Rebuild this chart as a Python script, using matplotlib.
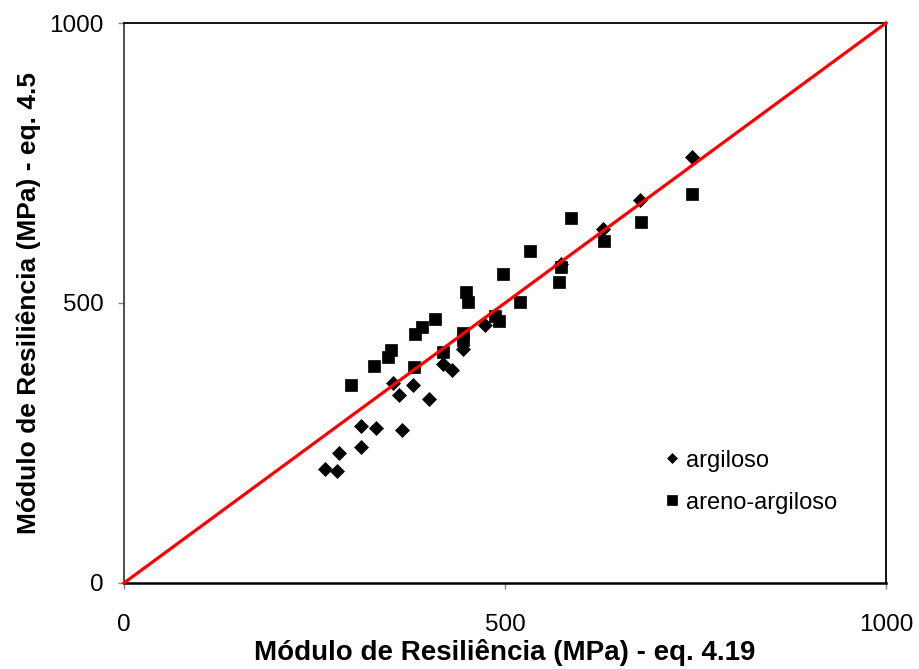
import matplotlib.pyplot as plt

plt.rcParams['font.family'] = ['Liberation Sans', 'DejaVu Sans']

# argiloso (diamantes)
arg_x = [264, 280, 282, 311, 311, 331, 365, 361, 379, 400, 353, 419, 430, 445, 474, 574, 629, 677, 745]
arg_y = [204, 200, 232, 243, 280, 277, 273, 336, 354, 329, 357, 391, 380, 418, 460, 570, 632, 684, 761]

# areno-argiloso (quadrados)
are_x = [298, 328, 346, 351, 380, 382, 391, 408, 418, 445, 445, 449, 451, 487, 492, 497, 520, 533, 571, 573, 586, 630, 678, 745]
are_y = [354, 388, 403, 416, 385, 445, 458, 471, 413, 446, 434, 520, 502, 477, 468, 551, 502, 593, 538, 565, 652, 611, 645, 694]

ticks = [0, 500, 1000]

fig = plt.figure(figsize=(9.19, 6.69), dpi=100)
ax = fig.add_axes([0.1349, 0.1286, 0.8292, 0.8370])

ax.plot(arg_x, arg_y, 'D', color='black', markersize=6.8, markeredgewidth=0.5, label='argiloso', zorder=3)
ax.plot(are_x, are_y, 's', color='black', markersize=9.0, markeredgewidth=0.5, label='areno-argiloso', zorder=3)
ax.plot([0, 1000], [0, 1000], color='#ff0000', linewidth=2.3, zorder=4, clip_on=False)

ax.set_xlim(0, 1000)
ax.set_ylim(0, 1000)
ax.set_xticks(ticks)
ax.set_yticks(ticks)
ax.tick_params(axis='both', direction='out', length=4.5, width=1, color='#808080', labelsize=17.5)
ax.tick_params(axis='x', pad=18)
ax.tick_params(axis='y', pad=10)

for s in ax.spines.values():
    s.set_linewidth(1.3)
    s.set_color('black')
ax.spines['bottom'].set_linewidth(1.8)
ax.spines['left'].set_color('#404040')

ax.set_xlabel('Módulo de Resiliência (MPa) - eq. 4.19', fontsize=20, fontweight='bold', labelpad=2)
ax.set_ylabel('Módulo de Resiliência (MPa) - eq. 4.5', fontsize=19, fontweight='bold', labelpad=6)

ax.legend(loc='upper left', bbox_to_anchor=(0.691, 0.255), frameon=False, fontsize=17,
          handletextpad=0.1, handlelength=1.0, labelspacing=0.85, markerscale=0.8, borderaxespad=0)

fig.savefig('out.png', dpi=100)
